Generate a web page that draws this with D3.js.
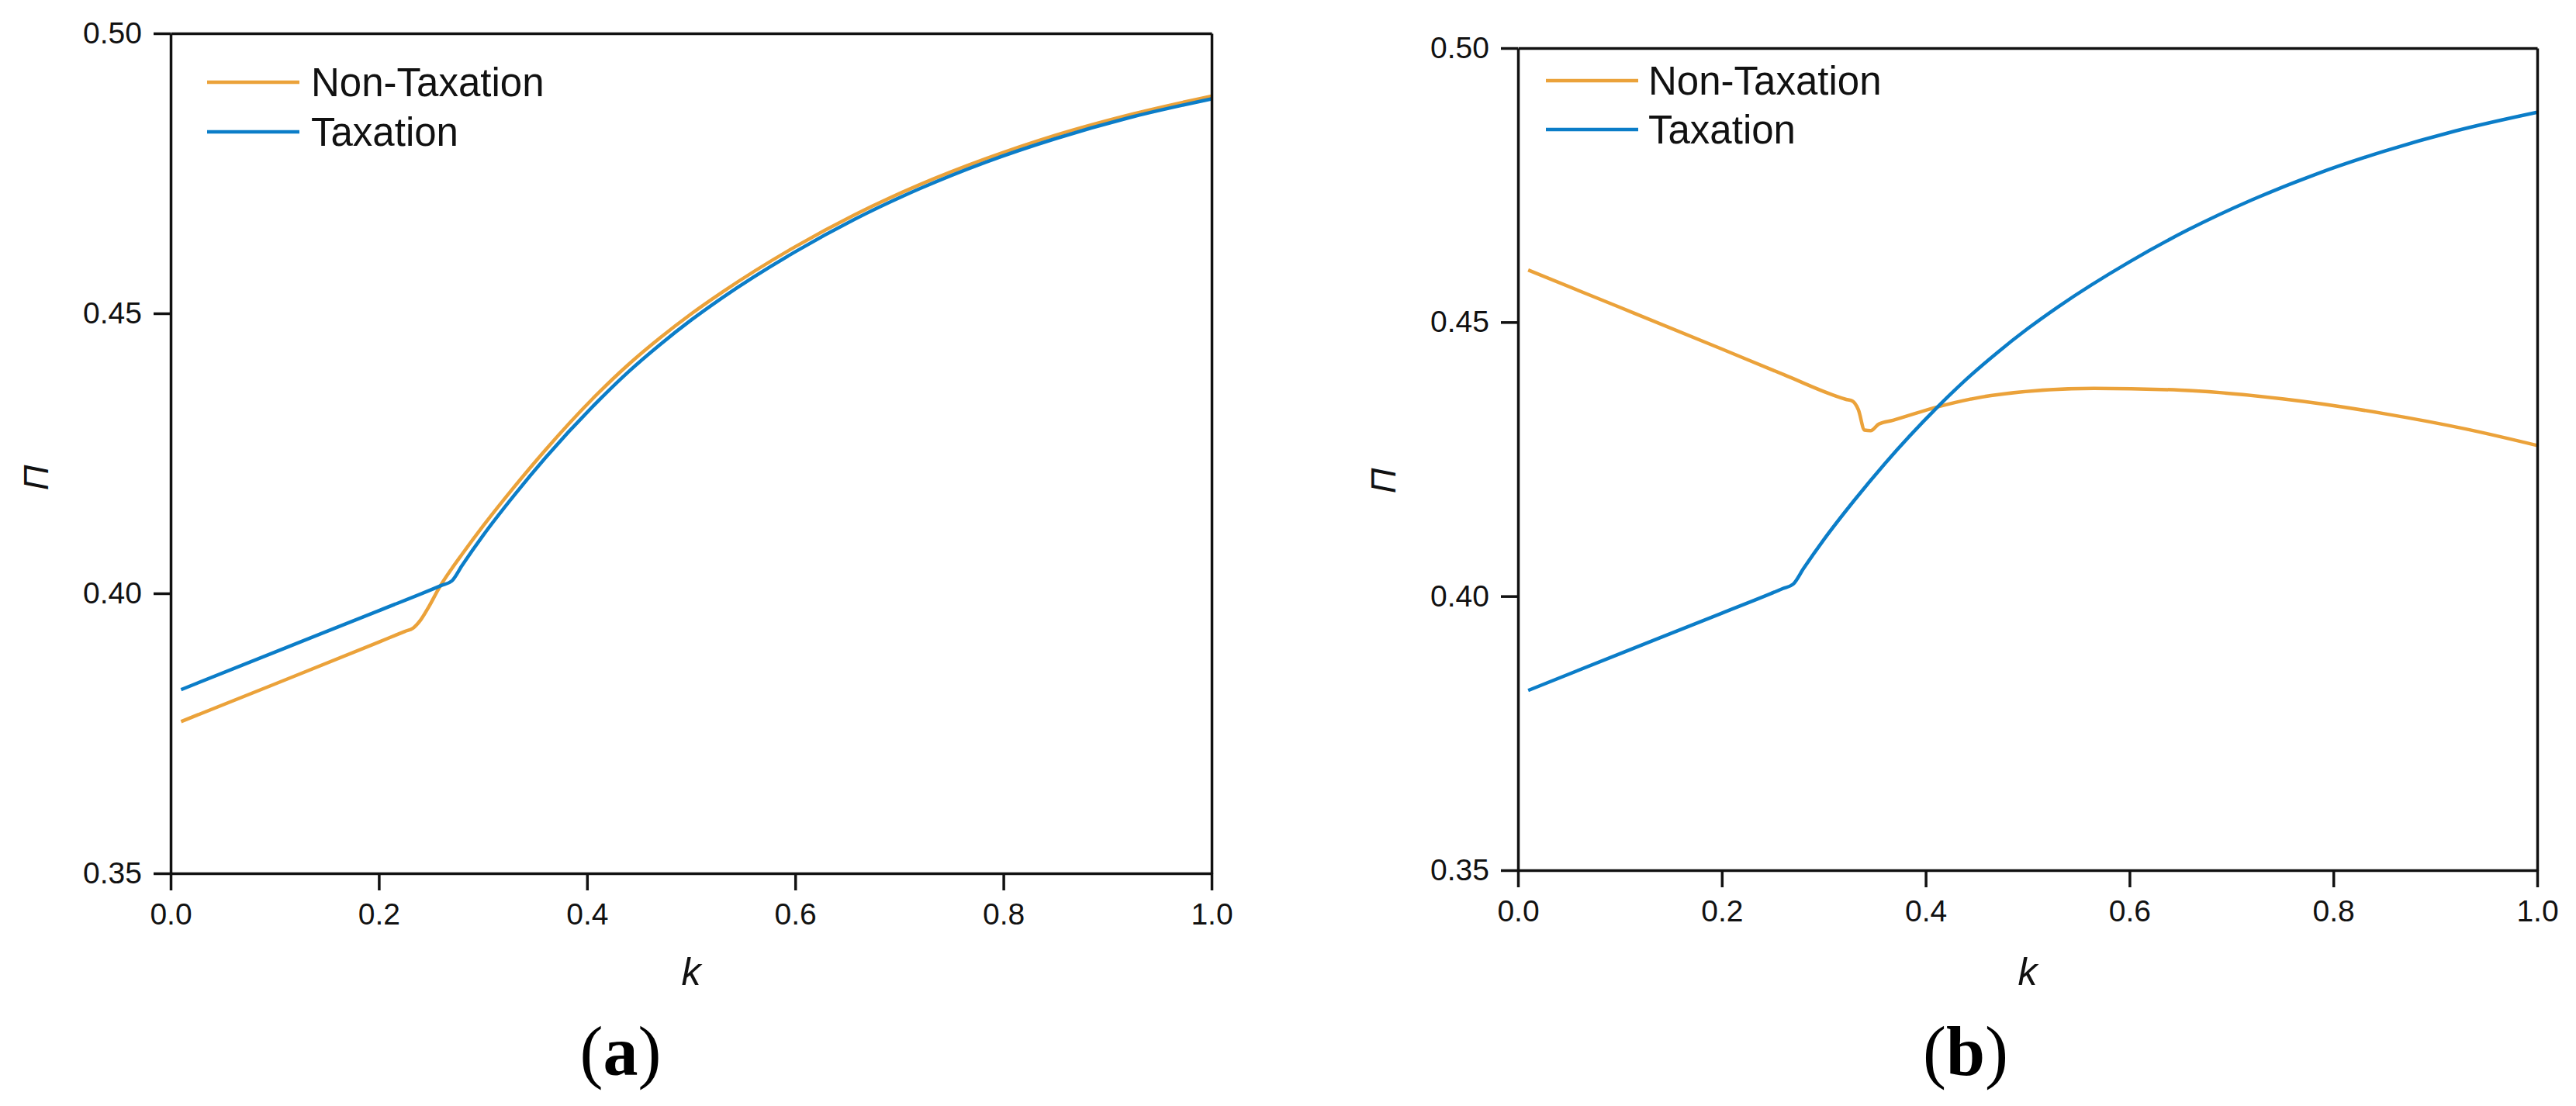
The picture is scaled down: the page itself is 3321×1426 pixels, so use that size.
<!DOCTYPE html>
<html>
<head>
<meta charset="utf-8">
<script src="https://cdn.jsdelivr.net/npm/d3@7"></script>
<style>
  body { margin: 0; background: #fff; }
  svg { display: block; font-family: "Liberation Sans", Arial, sans-serif; }
</style>
</head>
<body>
<svg id="chart" width="3321" height="1426"></svg>
<script>
// taxation curve (same in both panels)
const kTax = [0.01, 0.10, 0.20, 0.26, 0.27, 0.28, 0.30, 0.33, 0.36, 0.411, 0.44, 0.47, 0.50, 0.53, 0.60, 0.657, 0.72, 0.783, 0.85, 0.92, 1.00];
const piTax = [0.3828, 0.3895, 0.3969, 0.4014, 0.4022, 0.4050, 0.4103, 0.4175, 0.4242, 0.4344, 0.4396, 0.4444, 0.4488, 0.4528, 0.4610, 0.4668, 0.4723, 0.4770, 0.4812, 0.4849, 0.4883];

// panel (a) non-taxation
const kNonA = [0.01, 0.10, 0.20, 0.225, 0.233, 0.240, 0.248, 0.258, 0.27, 0.28, 0.30, 0.33, 0.36, 0.411, 0.44, 0.47, 0.50, 0.53, 0.60, 0.657, 0.72, 0.783, 0.85, 0.92, 1.00];
const piNonA = [0.3771, 0.3838, 0.3913, 0.3932, 0.3938, 0.3952, 0.3976, 0.4010, 0.4044, 0.4070, 0.4120, 0.4190, 0.4256, 0.4358, 0.4409, 0.4456, 0.4499, 0.4538, 0.4619, 0.4676, 0.4730, 0.4776, 0.4818, 0.4854, 0.4888];

// panel (b) non-taxation
const kNonB = [0.01, 0.10, 0.20, 0.261, 0.322, 0.328, 0.334, 0.340, 0.346, 0.354, 0.368, 0.411, 0.464, 0.565, 0.65, 0.75, 0.85, 0.93, 1.00];
const piNonB = [0.4595, 0.4527, 0.4451, 0.4404, 0.4359, 0.4356, 0.4340, 0.4303, 0.4302, 0.4314, 0.4321, 0.4345, 0.4366, 0.4379, 0.4376, 0.4360, 0.4333, 0.4305, 0.4275];

const xTicks = [0, 0.2, 0.4, 0.6, 0.8, 1.0];
const yTicks = [0.35, 0.40, 0.45, 0.50];
const seriesNames = ["Non-Taxation", "Taxation"];
const panelNames = ["a", "b"];

const colors = { "Non-Taxation": "#eba23a", "Taxation": "#0b7dc8" };

const panels = [
  { left: 220, right: 1562, top: 43, bottom: 1126, legX: 47, legY: [106, 170], textX: 181,
    labelX: 800, yLabelX: 46, yLabelY: 616,
    series: [{ name: "Non-Taxation", k: kNonA, v: piNonA }, { name: "Taxation", k: kTax, v: piTax }] },
  { left: 1957, right: 3271, top: 62, bottom: 1122, legX: 36, legY: [104, 167], textX: 168,
    labelX: 2534, yLabelX: 1783, yLabelY: 620,
    series: [{ name: "Non-Taxation", k: kNonB, v: piNonB }, { name: "Taxation", k: kTax, v: piTax }] }
];

const svg = d3.select("#chart");

panels.forEach((p, i) => {
  const x = d3.scaleLinear().domain([0, 1]).range([p.left, p.right]);
  const y = d3.scaleLinear().domain([0.35, 0.50]).range([p.bottom, p.top]);
  const g = svg.append("g");

  const line = d3.line()
    .x(d => x(d[0]))
    .y(d => y(d[1]))
    .curve(d3.curveMonotoneX);

  p.series.forEach(s => {
    g.append("path")
      .datum(d3.zip(s.k, s.v))
      .attr("d", line)
      .attr("fill", "none")
      .attr("stroke", colors[s.name])
      .attr("stroke-width", 4.5)
      .attr("stroke-linejoin", "round");
  });

  // axes
  const styleAxis = sel => {
    sel.select(".domain").attr("stroke", "#111").attr("stroke-width", 3.5);
    sel.selectAll(".tick line").attr("stroke", "#111").attr("stroke-width", 3.5);
    sel.selectAll(".tick text").attr("fill", "#111").style("font-size", "39px")
      .style("font-family", "'Liberation Sans', Arial, sans-serif");
  };

  g.append("g")
    .attr("transform", `translate(0,${p.bottom})`)
    .call(d3.axisBottom(x).tickValues(xTicks).tickFormat(d3.format(".1f"))
      .tickSize(22).tickSizeOuter(0).tickPadding(16))
    .call(styleAxis);

  g.append("g")
    .attr("transform", `translate(${p.left},0)`)
    .call(d3.axisLeft(y).tickValues(yTicks).tickFormat(d3.format(".2f"))
      .tickSize(22).tickSizeOuter(0).tickPadding(15))
    .call(styleAxis);

  g.append("g")
    .attr("transform", `translate(0,${p.top})`)
    .call(d3.axisTop(x).tickValues([]).tickSizeOuter(0))
    .call(styleAxis);

  g.append("g")
    .attr("transform", `translate(${p.right},0)`)
    .call(d3.axisRight(y).tickValues([]).tickSizeOuter(0))
    .call(styleAxis);

  // legend
  seriesNames.forEach((name, j) => {
    g.append("line")
      .attr("x1", p.left + p.legX).attr("x2", p.left + p.legX + 119)
      .attr("y1", p.legY[j]).attr("y2", p.legY[j])
      .attr("stroke", colors[name]).attr("stroke-width", 4.5);
    g.append("text")
      .attr("x", p.left + p.textX).attr("y", p.legY[j])
      .attr("dy", "0.36em")
      .style("font-size", "51px").attr("fill", "#111")
      .text(name);
  });

  // axis titles
  g.append("text")
    .attr("x", (p.left + p.right) / 2).attr("y", 1252)
    .attr("dy", "0.36em").attr("text-anchor", "middle")
    .style("font-size", "50px").style("font-style", "italic").attr("fill", "#111")
    .text("k");

  g.append("text")
    .attr("transform", `translate(${p.yLabelX},${p.yLabelY}) rotate(-90)`)
    .attr("dy", "0.36em").attr("text-anchor", "middle")
    .style("font-size", "45px").style("font-style", "italic").attr("fill", "#111")
    .text("Π");

  // panel label
  const lab = g.append("text")
    .attr("x", p.labelX).attr("y", 1386)
    .attr("text-anchor", "middle")
    .style("font-family", "'Liberation Serif', 'Times New Roman', serif")
    .style("font-size", "90px").attr("fill", "#000");
  lab.append("tspan").text("(");
  lab.append("tspan").style("font-weight", "bold").text(panelNames[i]);
  lab.append("tspan").text(")");
});
</script>
</body>
</html>
